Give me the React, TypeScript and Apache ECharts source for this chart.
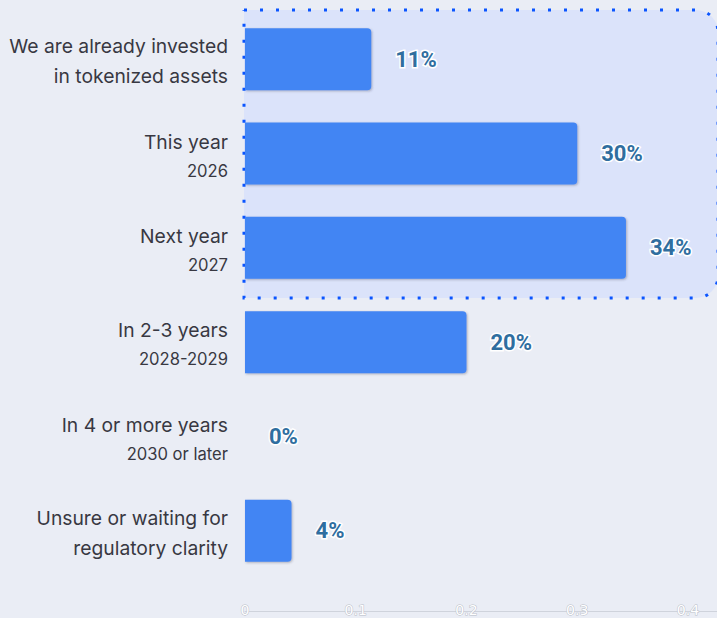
import React, { useEffect, useRef } from "react";
import * as echarts from "echarts";

const categories = [
  "We are already invested\nin tokenized assets",
  "This year\n2026",
  "Next year\n2027",
  "In 2-3 years\n2028-2029",
  "In 4 or more years\n2030 or later",
  "Unsure or waiting for\nregulatory clarity",
];
const smallSecondLine = [false, true, true, true, true, false];
const values = [0.114, 0.3, 0.344, 0.2, 0, 0.042];
const xTickLabels = ["0", "0.1", "0.2", "0.3", "0.4"];

export default function App() {
  const ref = useRef<HTMLDivElement>(null);
  useEffect(() => {
    if (!ref.current) return;
    const chart = echarts.init(ref.current, null, { renderer: "svg" });
    chart.setOption({
      animation: false,
      backgroundColor: "#eaedf5",
      grid: { left: 245, top: 12, height: 566, right: 0 },
      graphic: [
        {
          type: "rect",
          z: 0,
          shape: { x: 244, y: 10, width: 474, height: 288, r: [0, 22, 22, 0] },
          style: {
            fill: "#dbe3fa",
            stroke: "#0a55ff",
            lineWidth: 3,
            lineDash: [3, 13],
          },
        },
      ],
      xAxis: {
        type: "value",
        min: 0,
        max: 0.4262,
        interval: 0.1,
        offset: 33,
        splitLine: { show: false },
        axisTick: { show: false },
        axisLine: { show: true, lineStyle: { color: "#cfd3dc", width: 1 } },
        axisLabel: {
          margin: -8,
          showMaxLabel: false,
          color: "#ffffff",
          textBorderColor: "#b9bdc7",
          textBorderWidth: 1,
          fontSize: 14,
          fontFamily: "DejaVu Sans",
          formatter: (v: number) => {
            const i = Math.round(v * 10);
            return Math.abs(v * 10 - i) < 1e-6 && i < xTickLabels.length ? xTickLabels[i] : "";
          },
        },
      },
      yAxis: {
        type: "category",
        inverse: true,
        data: categories,
        axisLine: { show: false },
        axisTick: { show: false },
        axisLabel: {
          margin: 17,
          padding: [4, 0, 0, 0],
          formatter: (v: string) => {
            const idx = categories.indexOf(v);
            const parts = v.split("\n");
            const second = smallSecondLine[idx] ? "b" : "a";
            return `{a|${parts[0]}}\n{${second}|${parts[1]}}`;
          },
          rich: {
            a: { fontSize: 19.3, lineHeight: 30, color: "#383842", fontFamily: "Inter", align: "right" },
            b: { fontSize: 16.6, lineHeight: 28, color: "#383842", fontFamily: "Inter", align: "right" },
          },
        },
      },
      series: [
        {
          type: "bar",
          z: 2,
          data: values,
          barWidth: 62,
          itemStyle: {
            color: "#4385f3",
            borderRadius: [0, 4, 4, 0],
            shadowColor: "rgba(60,60,80,0.35)",
            shadowBlur: 2,
            shadowOffsetX: 1,
            shadowOffsetY: 1,
          },
          label: {
            show: true,
            position: "right",
            distance: 24,
            formatter: (p: any) => Math.round(p.value * 100) + "%",
            fontFamily: "Roboto",
            fontWeight: "bold",
            fontSize: 22,
            color: "#2f6e9f",
            textBorderColor: "#ffffff",
            textBorderWidth: 3,
          },
        },
      ],
    });
    return () => chart.dispose();
  }, []);
  return (
    <div
      ref={ref}
      style={{ position: "fixed", left: 0, top: 0, width: 717, height: 618 }}
    />
  );
}
